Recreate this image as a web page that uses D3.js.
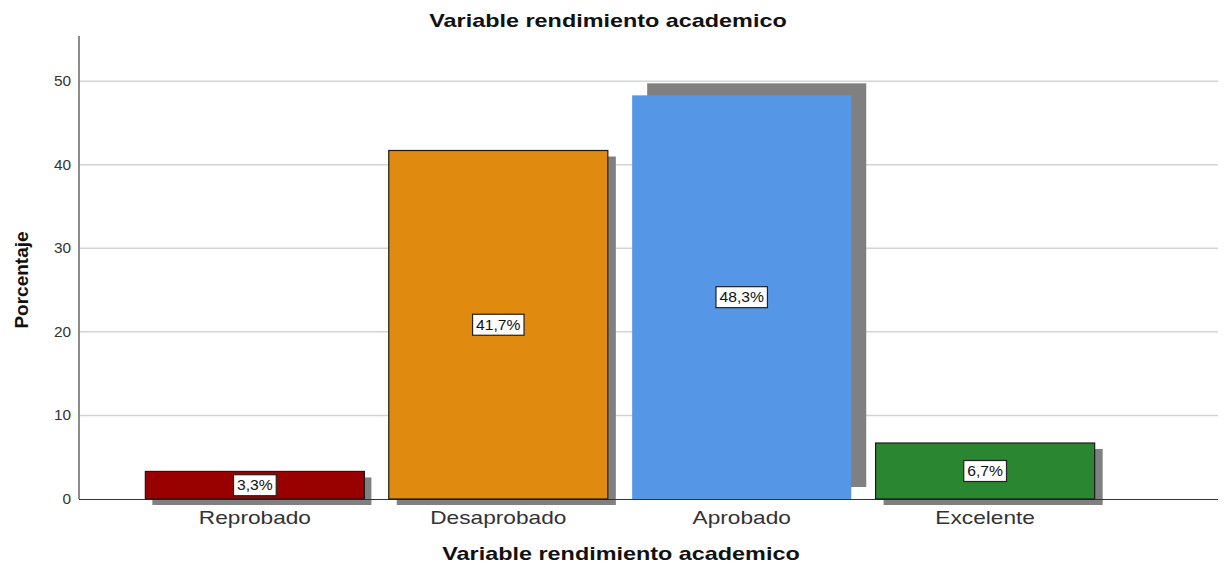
<!DOCTYPE html>
<html>
<head>
<meta charset="utf-8">
<script src="https://cdn.jsdelivr.net/npm/d3@7"></script>
<style>
  html, body { margin: 0; padding: 0; background: #fff; }
  svg { display: block; font-family: "Liberation Sans", Arial, sans-serif; }
</style>
</head>
<body>
<svg id="chart" width="1224" height="564"></svg>
<script>
'use strict';

// Datos del grafico
const categories = ['Reprobado', 'Desaprobado', 'Aprobado', 'Excelente'];
const percentages = [3.3, 41.7, 48.3, 6.7];
const valueLabels = ['3,3%', '41,7%', '48,3%', '6,7%'];
const yTicks = [0, 10, 20, 30, 40, 50];

const barColors = {
    Reprobado: '#990000',
    Desaprobado: '#E08A10',
    Aprobado: '#5596E6',
    Excelente: '#2A8630',
};
// shadow offsets (the Aprobado shadow is drawn shifted upwards in the original)
const shadowShift = {
    Reprobado: [7, 6],
    Desaprobado: [8, 6],
    Aprobado: [15, -12],
    Excelente: [8, 6],
};

const FONT = '"Liberation Sans", Arial, sans-serif';
const svg = d3.select('#chart');
const plotLeft = 79, plotRight = 1218, plotTop = 36, plotBottom = 499;

const x = d3.scaleBand().domain(categories).range([121, 1119]).padding(0.1);
const y = d3.scaleLinear().domain([0, 55.4]).range([plotBottom, plotTop]);

// SPSS draws its text a bit stretched sideways
function stretchedText(parent, tx, ty, str, size, weight, sx) {
    return parent.append('g')
        .attr('transform', `translate(${tx},${ty}) scale(${sx},1)`)
        .append('text')
        .attr('text-anchor', 'middle')
        .attr('font-family', FONT)
        .attr('font-size', size).attr('font-weight', weight).attr('fill', '#111')
        .text(str);
}

// gridlines
svg.append('g')
    .selectAll('line')
    .data(yTicks.filter(d => d > 0))
    .join('line')
    .attr('x1', plotLeft).attr('x2', plotRight)
    .attr('y1', d => y(d)).attr('y2', d => y(d))
    .attr('stroke', '#d4d4d4').attr('stroke-width', 1.5);

// shadows
svg.append('g')
    .selectAll('rect')
    .data(categories)
    .join('rect')
    .attr('x', d => x(d) + shadowShift[d][0])
    .attr('y', (d, i) => y(percentages[i]) + shadowShift[d][1])
    .attr('width', x.bandwidth())
    .attr('height', (d, i) => plotBottom - y(percentages[i]))
    .attr('fill', '#808080');

// baseline
svg.append('line')
    .attr('x1', plotLeft).attr('x2', plotRight)
    .attr('y1', plotBottom + 0.5).attr('y2', plotBottom + 0.5)
    .attr('stroke', '#333').attr('stroke-width', 1);

// bars
svg.append('g')
    .selectAll('rect')
    .data(categories)
    .join('rect')
    .attr('x', d => x(d))
    .attr('y', (d, i) => y(percentages[i]))
    .attr('width', x.bandwidth())
    .attr('height', (d, i) => plotBottom - y(percentages[i]))
    .attr('fill', d => barColors[d])
    .attr('stroke', d => d === 'Aprobado' ? 'none' : '#1a1a1a')
    .attr('stroke-width', 1.2);

// y axis
const yAxis = svg.append('g')
    .attr('transform', `translate(${plotLeft},0)`)
    .call(d3.axisLeft(y).tickValues(yTicks).tickSize(0).tickPadding(8));
yAxis.select('.domain').remove();
yAxis.selectAll('text')
    .attr('font-size', 14).attr('fill', '#333')
    .attr('font-family', FONT)
    .attr('x', -8 / 1.1)
    .attr('transform', 'scale(1.1,1)');
svg.append('line')
    .attr('x1', plotLeft).attr('x2', plotLeft)
    .attr('y1', plotTop).attr('y2', plotBottom)
    .attr('stroke', '#8c8c8c').attr('stroke-width', 2);

// x axis labels
const xAxis = svg.append('g')
    .attr('transform', `translate(0,${plotBottom})`)
    .call(d3.axisBottom(x).tickSize(0).tickPadding(12));
xAxis.select('.domain').remove();
xAxis.selectAll('text')
    .attr('font-size', 18).attr('fill', '#333')
    .attr('font-family', FONT)
    .attr('transform', 'scale(1.26,1)');

// value labels in boxes
const lab = svg.append('g')
    .selectAll('g')
    .data(categories)
    .join('g')
    .attr('transform', (d, i) => `translate(${x(d) + x.bandwidth() / 2},${y(percentages[i] / 2)})`);
lab.append('g')
    .attr('class', 'box');
lab.append('g')
    .attr('transform', 'scale(1.12,1)')
    .append('text')
    .attr('text-anchor', 'middle')
    .attr('dy', '0.36em')
    .attr('font-family', FONT)
    .attr('font-size', 14)
    .attr('fill', '#111')
    .text((d, i) => valueLabels[i]);
lab.each(function () {
    const g = d3.select(this);
    const bb = g.select('text').node().getBBox();
    const w = bb.width * 1.12 + 7;
    g.select('.box').append('rect')
        .attr('x', -w / 2).attr('y', -10.5)
        .attr('width', w).attr('height', 21)
        .attr('fill', '#fff').attr('stroke', '#222').attr('stroke-width', 1.2);
});

// titles
stretchedText(svg, 608, 27, 'Variable rendimiento academico', 18, 'bold', 1.3);
stretchedText(svg, 621, 560, 'Variable rendimiento academico', 18, 'bold', 1.3);

svg.append('text')
    .attr('transform', 'translate(28,280) rotate(-90)')
    .attr('text-anchor', 'middle')
    .attr('font-family', FONT)
    .attr('font-size', 19).attr('font-weight', 'bold').attr('fill', '#111')
    .text('Porcentaje');
</script>
</body>
</html>
